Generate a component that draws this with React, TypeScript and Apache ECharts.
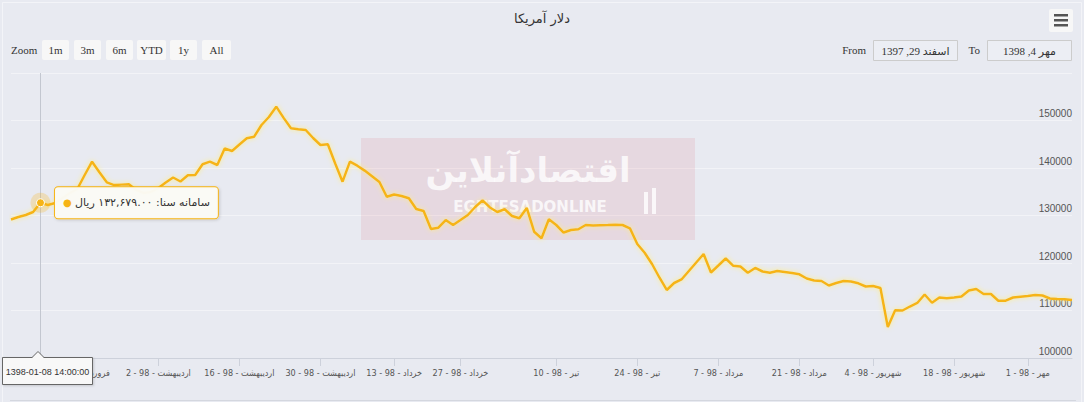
import React, { useEffect, useRef } from 'react';
import * as echarts from 'echarts';

const chartTitle = 'دلار آمریکا';
const seriesName = 'سامانه سنا';

const values = [
  129160, 129690, 130110, 130740, 132679, 132210, 132630, 133690, 134740, 135580,
  138530, 141330, 139100, 136990, 136400, 136500, 136570, 135370, 134740, 134950,
  135790, 136930, 138000, 137160, 138460, 138530, 140780, 141330, 140630, 144110,
  143580, 144950, 146250, 146590, 149050, 150740, 152910, 150550, 148360, 148170,
  148000, 146320, 144840, 144990, 140950, 137120, 141330, 140490, 139450, 138250,
  137050, 133960, 134420, 134110, 133620, 131370, 130950, 127160, 127430, 129050,
  128000, 129050, 130110, 131790, 133200, 131690, 130740, 131310, 129900, 129410,
  131580, 126590, 125200, 129200, 128000, 126420, 126950, 127100, 128000, 127900,
  127960, 128000, 128050, 128000, 127310, 124000, 122150, 119790, 116950, 114320,
  115790, 116530, 118320, 120110, 121900, 118000, 119470, 120950, 119430, 119260,
  117960, 118950, 118210, 117960, 118320, 118110, 117900, 117620, 116740, 116320,
  116210, 115260, 115790, 116210, 116110, 115730, 115050, 115160, 114740, 106530,
  110040, 110000, 110840, 111580, 113370, 111640, 112740, 112570, 112740, 112950,
  114210, 114530, 113470, 113470, 112060, 112060, 112740, 112910, 113050, 113260,
  113160, 112530, 112420, 112360, 112210,
];

const tickIndices = [9, 20, 31, 42, 52, 61, 74, 85, 96, 107, 117, 128, 138];
const tickLabels = [
  'فروردین - 98 - 19',
  'اردیبهشت - 98 - 2',
  'اردیبهشت - 98 - 16',
  'اردیبهشت - 98 - 30',
  'خرداد - 98 - 13',
  'خرداد - 98 - 27',
  'تیر - 98 - 10',
  'تیر - 98 - 24',
  'مرداد - 98 - 7',
  'مرداد - 98 - 21',
  'شهریور - 98 - 4',
  'شهریور - 98 - 18',
  'مهر - 98 - 1',
];

const yMin = 100000;
const yMax = 160000;
const yStep = 10000;

const rangeButtons = ['1m', '3m', '6m', 'YTD', '1y', 'All'];
const fromDate = 'اسفند 29, 1397';
const toDate = 'مهر 4, 1398';

const hoverIndex = 4;
const hoverDate = '1398-01-08 14:00:00';
const hoverText = 'سامانه سنا: ۱۳۲,۶۷۹.۰۰ ریال';

const BG = '#e8eaf1';
const LINE = '#f6b416';

export default function App() {
  const ref = useRef<HTMLDivElement>(null);

  useEffect(() => {
    if (!ref.current) return;
    const chart = echarts.init(ref.current, null, { renderer: 'svg' });

    const categories = values.map((_, i) => {
      const k = tickIndices.indexOf(i);
      return k >= 0 ? tickLabels[k] : 'p' + i;
    });
    const isTick = (i: number) => tickIndices.indexOf(i) >= 0;

    const serif = "'Liberation Serif', 'DejaVu Sans', serif";
    const sans = "'DejaVu Sans', sans-serif";
    const cond = "'DejaVu Sans Condensed', 'DejaVu Sans', sans-serif";

    const btnX = [42, 74, 106, 137, 170, 202];
    const btnW = [27, 27, 27, 29, 27, 29];

    const graphic: any[] = [
      { type: 'rect', z: 0, silent: true, shape: { x: 2.5, y: 2.5, width: 1079, height: 420 }, style: { fill: 'none', stroke: '#f3f4f8', lineWidth: 1 } },
      // watermark
      { type: 'rect', z: 1, silent: true, shape: { x: 361, y: 138, width: 334, height: 102 }, style: { fill: 'rgba(220,60,80,0.10)' } },
      { type: 'text', z: 1, silent: true, style: { x: 528, y: 170, text: 'اقتصادآنلاین', fill: 'rgba(255,255,255,0.8)', font: "bold 34px 'DejaVu Sans'", textAlign: 'center', textVerticalAlign: 'middle' } },
      { type: 'text', z: 1, silent: true, style: { x: 530, y: 207, text: 'EGHTESADONLINE', fill: 'rgba(255,255,255,0.8)', font: "bold 15px 'DejaVu Sans'", textAlign: 'center', textVerticalAlign: 'middle' } },
      { type: 'rect', z: 1, silent: true, shape: { x: 644, y: 192, width: 4, height: 22 }, style: { fill: 'rgba(255,255,255,0.8)' } },
      { type: 'rect', z: 1, silent: true, shape: { x: 652, y: 188, width: 4, height: 26 }, style: { fill: 'rgba(255,255,255,0.8)' } },
      // range selector
      { type: 'text', z: 5, style: { x: 11, y: 50, text: 'Zoom', fill: '#333', font: `11px ${serif}`, textAlign: 'left', textVerticalAlign: 'middle' } },
      // from / to
      { type: 'text', z: 5, style: { x: 866, y: 50, text: 'From', fill: '#333', font: `11px ${serif}`, textAlign: 'right', textVerticalAlign: 'middle' } },
      { type: 'rect', z: 5, shape: { x: 873.5, y: 40.5, width: 84, height: 20 }, style: { fill: '#eceef4', stroke: '#cccccc', lineWidth: 1 } },
      { type: 'text', z: 6, style: { x: 915.5, y: 51, text: fromDate, fill: '#333', font: `11px ${serif}`, textAlign: 'center', textVerticalAlign: 'middle' } },
      { type: 'text', z: 5, style: { x: 980, y: 50, text: 'To', fill: '#333', font: `11px ${serif}`, textAlign: 'right', textVerticalAlign: 'middle' } },
      { type: 'rect', z: 5, shape: { x: 987.5, y: 40.5, width: 84, height: 20 }, style: { fill: '#eceef4', stroke: '#cccccc', lineWidth: 1 } },
      { type: 'text', z: 6, style: { x: 1029.5, y: 51, text: toDate, fill: '#333', font: `11px ${serif}`, textAlign: 'center', textVerticalAlign: 'middle' } },
      // hamburger menu
      { type: 'rect', z: 5, shape: { x: 1049, y: 9, width: 24, height: 23, r: 2 }, style: { fill: '#f7f7f7' } },
      { type: 'rect', z: 6, shape: { x: 1054, y: 14, width: 14, height: 2.5 }, style: { fill: '#555' } },
      { type: 'rect', z: 6, shape: { x: 1054, y: 19, width: 14, height: 2.5 }, style: { fill: '#555' } },
      { type: 'rect', z: 6, shape: { x: 1054, y: 24, width: 14, height: 2.5 }, style: { fill: '#555' } },
      // navigator top edge
      { type: 'line', z: 5, silent: true, shape: { x1: 10, y1: 400.5, x2: 1076, y2: 400.5 }, style: { stroke: '#d4d7df', lineWidth: 1 } },
      // crosshair date label
      { type: 'rect', z: 50, shape: { x: 2.5, y: 357.5, width: 90, height: 27 }, style: { fill: '#f8f8f8', stroke: '#666', lineWidth: 1, shadowBlur: 2, shadowColor: 'rgba(0,0,0,0.15)', shadowOffsetX: 1, shadowOffsetY: 1 } },
      { type: 'polygon', z: 51, shape: { points: [[32, 358], [38, 351.5], [44, 358]] }, style: { fill: '#f8f8f8' } },
      { type: 'polyline', z: 51, shape: { points: [[32, 357.5], [38, 351.5], [44, 357.5]] }, style: { stroke: '#666', lineWidth: 1, fill: 'none' } },
      { type: 'text', z: 52, style: { x: 47.5, y: 371.5, text: hoverDate, fill: '#333', font: "9px 'Liberation Sans', sans-serif", textAlign: 'center', textVerticalAlign: 'middle' } },
    ];

    rangeButtons.forEach((b, i) => {
      graphic.push({ type: 'rect', z: 5, shape: { x: btnX[i], y: 40, width: btnW[i], height: 20, r: 2 }, style: { fill: '#f7f7f7' } });
      graphic.push({ type: 'text', z: 6, style: { x: btnX[i] + btnW[i] / 2, y: 50, text: b, fill: '#333', font: `11px ${serif}`, textAlign: 'center', textVerticalAlign: 'middle' } });
    });

    chart.setOption({
      animation: false,
      backgroundColor: BG,
      title: {
        text: chartTitle,
        left: 'center',
        top: 7,
        textStyle: { fontSize: 13, fontWeight: 'normal', color: '#333', fontFamily: sans },
      },
      grid: { left: 11, right: 12, top: 73, bottom: 44, containLabel: false },
      xAxis: {
        type: 'category',
        data: categories,
        boundaryGap: false,
        axisLine: { lineStyle: { color: '#cdd1db', width: 1 } },
        axisTick: { show: true, length: 8, interval: (i: number) => isTick(i), lineStyle: { color: '#cdd1db' } },
        axisLabel: {
          interval: (i: number) => isTick(i),
          color: '#555',
          fontSize: 9,
          fontFamily: cond,
          margin: 10,
        },
        splitLine: { show: false },
      },
      yAxis: {
        type: 'value',
        position: 'right',
        min: yMin,
        max: yMax,
        interval: yStep,
        axisLine: { show: false },
        axisTick: { show: false },
        axisLabel: {
          inside: true,
          margin: 0,
          showMaxLabel: false,
          formatter: (v: number) => String(v),
          color: '#555',
          fontSize: 10,
          fontFamily: "'Liberation Sans', sans-serif",
          verticalAlign: 'bottom',
          padding: [0, 0, 2, 0],
        },
        splitLine: { lineStyle: { color: '#f2f3f7', width: 1 } },
      },
      graphic,
      series: [
        {
          name: seriesName,
          type: 'line',
          data: values,
          symbol: 'none',
          z: 3,
          lineStyle: {
            color: LINE,
            width: 2.5,
            shadowColor: 'rgba(255,238,120,0.9)',
            shadowBlur: 5,
          },
          markLine: {
            silent: true,
            symbol: ['none', 'none'],
            label: { show: false },
            lineStyle: { color: '#c3c7d0', width: 1, type: 'solid' },
            data: [{ xAxis: hoverIndex }],
          },
          markPoint: {
            silent: true,
            data: [
              {
                coord: [hoverIndex, values[hoverIndex]],
                symbol: 'circle',
                symbolSize: 20,
                itemStyle: { color: 'rgba(246,180,22,0.25)' },
                label: { show: false },
              },
              {
                coord: [hoverIndex, values[hoverIndex]],
                symbol: 'circle',
                symbolSize: 8,
                itemStyle: { color: LINE, borderColor: '#fff', borderWidth: 1 },
                label: {
                  show: true,
                  position: 'right',
                  distance: 10,
                  formatter: '{d|●} {t|' + hoverText + '}',
                  backgroundColor: 'rgba(251,251,246,0.97)',
                  borderColor: LINE,
                  borderWidth: 1,
                  borderRadius: 3,
                  padding: [8, 8, 8, 8],
                  shadowColor: 'rgba(0,0,0,0.15)',
                  shadowBlur: 3,
                  shadowOffsetX: 1,
                  shadowOffsetY: 1,
                  rich: {
                    d: { color: LINE, fontSize: 10, fontFamily: sans },
                    t: { color: '#333', fontSize: 11, fontFamily: sans, lineHeight: 15 },
                  },
                },
              },
            ],
          },
        },
      ],
    });

    return () => chart.dispose();
  }, []);

  return (
    <div
      ref={ref}
      style={{ position: 'fixed', left: 0, top: 0, width: 1084, height: 402, background: BG }}
    />
  );
}
